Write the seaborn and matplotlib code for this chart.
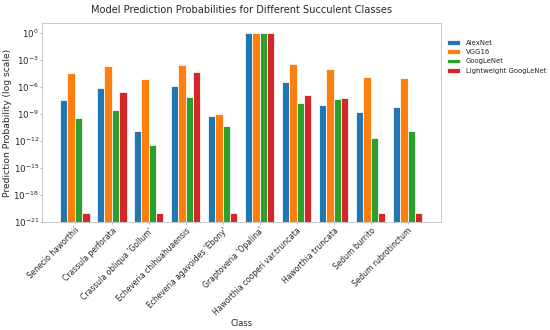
import pandas as pd
import numpy as np
import matplotlib.pyplot as plt
import seaborn as sns

#CLASS NAMES AND MODEL PROBABILITIES
classes = ['Senecio haworthii', 'Crassula perforata', "Crassula obliqua 'Gollum'",
           'Echeveria chihuahuaensis', "Echeveria agavoides 'Ebony'", "Graptoveria 'Opalina'",
           'Haworthia cooperi var.truncata', 'Haworthia truncata', 'Sedum burrito',
           'Sedum rubrotinctum']
models = ['AlexNet', 'VGG16', 'GoogLeNet', 'Lightweight GoogLeNet']

alexnet = [10**-7.5, 10**-6.1, 10**-10.85, 10**-5.9, 10**-9.25, 1.0, 10**-5.5, 10**-8.0, 10**-8.8, 10**-8.25]
vgg16 = [10**-4.4, 10**-3.7, 10**-5.15, 10**-3.55, 10**-9.05, 1.0, 10**-3.45, 10**-4.0, 10**-4.9, 10**-5.0]
googlenet = [10**-9.4, 10**-8.55, 10**-12.5, 10**-7.1, 10**-10.35, 1.0, 10**-7.75, 10**-7.35, 10**-11.7, 10**-10.9]
light_googlenet = [1e-20, 10**-6.6, 1e-20, 10**-4.35, 1e-20, 1.0, 10**-6.9, 10**-7.2, 1e-20, 1e-20]

#build long dataframe for seaborn
df = pd.DataFrame({'Class': classes * 4,
                   'Model': np.repeat(models, len(classes)),
                   'Probability': alexnet + vgg16 + googlenet + light_googlenet})

sns.set_style('white')
plt.rcParams['font.family'] = ['DejaVu Sans']

fig, ax = plt.subplots(figsize=(10, 6), dpi=55)
palette = ['#1f77b4', '#ff7f0e', '#2ca02c', '#d62728']
sns.barplot(data=df, x='Class', y='Probability', hue='Model', palette=palette,
            saturation=1, width=0.8, errorbar=None, ax=ax)
ax.set_yscale('log')
ax.set_ylim(1e-21, 10**1.07)
ax.set_xlim(-0.89, len(classes) - 1 + 0.89)
ax.set_yticks([10.0**k for k in range(0, -22, -3)])
ax.minorticks_off()

ax.set_title('Model Prediction Probabilities for Different Succulent Classes', fontsize=13, pad=13)
ax.set_xlabel('Class', fontsize=11, labelpad=2)
ax.set_ylabel('Prediction Probability (log scale)', fontsize=12, labelpad=2)
plt.setp(ax.get_xticklabels(), rotation=45, ha='right', rotation_mode='anchor', fontsize=10)
ax.tick_params(axis='y', labelsize=11.5, pad=1.5)
ax.tick_params(axis='both', length=2, color='#888888', left=True, bottom=True)
for s in ax.spines.values():
    s.set_color('#aaaaaa')

ax.legend(title=None, loc='upper left', bbox_to_anchor=(1.0, 0.95), frameon=False, fontsize=9)

plt.subplots_adjust(left=0.076, right=0.801, top=0.929, bottom=0.328)
plt.savefig('out.png', dpi=55)
